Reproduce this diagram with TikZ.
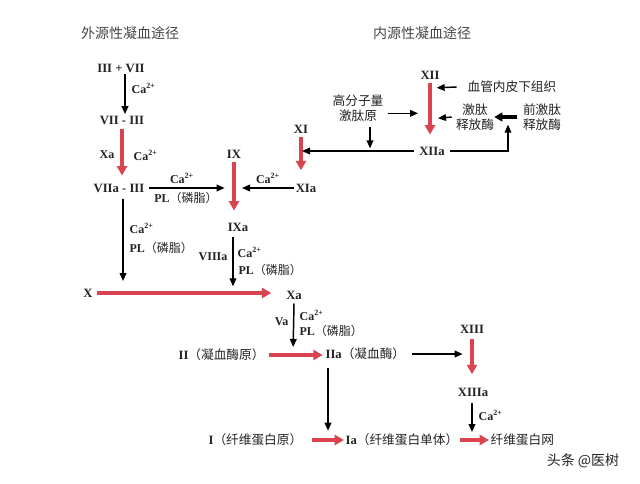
\documentclass[tikz,border=0pt]{standalone}
\usepackage{fontspec}
\setmainfont{Liberation Serif}
\newfontfamily\cjk{Noto Sans CJK SC}
\usetikzlibrary{arrows.meta}
\definecolor{myred}{RGB}{218,68,80}
\definecolor{txt}{RGB}{35,35,35}
\definecolor{ttl}{RGB}{70,70,70}
\newcommand\RN[1]{{\bfseries #1}}
\newcommand\CJ[1]{{\cjk #1}}
\newcommand\CaIon{{\bfseries Ca\textsuperscript{2+}}}
\tikzset{
  lbl/.style={inner sep=1pt, text=txt, font=\fontsize{9.5}{11}\selectfont, align=center},
  sm/.style={inner sep=1pt, text=txt, font=\fontsize{9}{10}\selectfont},
  ttlbox/.style={inner sep=1pt, text=ttl, font=\cjk\fontsize{10.5}{12}\selectfont},
  blk/.style={draw=black, line width=1.1pt, -{Triangle[length=6pt,width=5pt]}},
  thickblk/.style={draw=black, line width=2.4pt, -{Triangle[length=6pt,width=6.5pt]}},
  redarr/.style={draw=myred, line width=3.6pt, -{Triangle[length=7pt,width=7.5pt]}},
}
\begin{document}
\begin{tikzpicture}[x=0.75pt,y={(0pt,-0.75pt)}]
\useasboundingbox[fill=white] (0,0) rectangle (640,483);
% titles
\node[ttlbox] (t1) at (130,33) {外源性凝血途径};
\node[ttlbox] (t2) at (422,33) {内源性凝血途径};
% extrinsic
\node[lbl] (n1) at (121,68) {\RN{III + VII}};
\node[lbl] (n2) at (122,120) {\RN{VII - III}};
\node[lbl] (n3) at (119,188) {\RN{VIIa - III}};
\node[sm,anchor=west] (c1) at (130,88) {\CaIon};
\node[sm,anchor=east] (xa1) at (116,155) {\RN{Xa}};
\node[sm,anchor=west] (c2) at (132,155) {\CaIon};
% IX / XI
\node[lbl] (ix) at (234,154) {\RN{IX}};
\node[lbl] (ixa) at (238,227) {\RN{IXa}};
\node[lbl] (xi) at (301,129) {\RN{XI}};
\node[lbl] (xia) at (306,188) {\RN{XIa}};
\coordinate (ixmid) at (234,188);
\node[sm] (c3) at (182,178) {\CaIon};
\node[sm] (pl1) at (186,198) {\RN{PL}\CJ{（磷脂）}};
\node[sm] (c4) at (268,178) {\CaIon};
\node[sm,anchor=west] (c5) at (128,228) {\CaIon};
\node[sm,anchor=west] (pl2) at (128,248) {\RN{PL}\CJ{（磷脂）}};
\node[sm,anchor=east] (viiia) at (229,257) {\RN{VIIIa}};
\node[sm,anchor=west] (c6) at (236,252) {\CaIon};
\node[sm,anchor=west] (pl3) at (237,270) {\RN{PL}\CJ{（磷脂）}};
% X row
\node[lbl] (x) at (88,293) {\RN{X}};
\node[lbl] (xa) at (294,295) {\RN{Xa}};
\coordinate (xline1) at (123,293);
\coordinate (xline2) at (233,293);
\node[sm,anchor=east] (va) at (290,322) {\RN{Va}};
\node[sm,anchor=west] (c7) at (298,315) {\CaIon};
\node[sm,anchor=west] (pl4) at (298,331) {\RN{PL}\CJ{（磷脂）}};
% II row
\node[lbl,anchor=west] (ii) at (177,355) {\RN{II}\CJ{（凝血酶原）}};
\node[lbl,anchor=west] (iia) at (324,354) {\RN{IIa}\CJ{（凝血酶）}};
\coordinate (iiline) at (293,355);
\node[lbl] (xiii) at (472,329) {\RN{XIII}};
\node[lbl] (xiiia) at (473,392) {\RN{XIIIa}};
\coordinate (xiiiline) at (472,354);
\node[sm,anchor=west] (c8) at (477,415) {\CaIon};
% bottom row
\node[lbl,anchor=west] (i) at (207,440) {\RN{I}\CJ{（纤维蛋白原）}};
\node[lbl,anchor=west] (ia) at (344,440) {\RN{Ia}\CJ{（纤维蛋白单体）}};
\node[lbl,anchor=west] (net) at (489,440) {\CJ{纤维蛋白网}};
\coordinate (ialine) at (328,440);
\coordinate (netline) at (472,440);
\node[inner sep=1pt, text=txt, font=\cjk\fontsize{10.5}{12}\selectfont] (wm) at (583,461) {头条 @医树};
% intrinsic
\node[lbl] (xii) at (430,75) {\RN{XII}};
\node[lbl] (xiia) at (432,151) {\RN{XIIa}};
\node[lbl,anchor=west] (endo) at (466,87) {\CJ{血管内皮下组织}};
\node[lbl] (hmwk) at (358,108) {\CJ{高分子量}\\\CJ{激肽原}};
\node[lbl] (kal) at (475,117) {\CJ{激肽}\\\CJ{释放酶}};
\node[lbl] (pkal) at (542,117) {\CJ{前激肽}\\\CJ{释放酶}};
\coordinate (xiil1) at (430,88);
\coordinate (xiil3) at (430,119);
\coordinate (pkarrow) at (508,118);
\coordinate (xiline) at (302,151);
\coordinate (hmwkline) at (370,151);
% ---- connectors ----
\draw[blk] ([xshift=3pt]n1.south) -- ([xshift=3pt]n1.south |- n2.north);
\draw[redarr, shorten <=2pt, shorten >=5pt] (n2.south) -- (n2.south |- n3.north);
\draw[blk, shorten >=7pt] ([xshift=2pt]n3.east) -- (ixmid);
\draw[blk, shorten >=6pt] (xia.west) -- (ixmid);
\draw[redarr, shorten <=2pt, shorten >=8pt] (ix.south) -- (ix.south |- ixa.north);
\draw[redarr, shorten <=2pt, shorten >=9pt] (xi.south) -- (xi.south |- xia.north);
\draw[blk, shorten >=9pt] ([yshift=-4pt]xline1 |- n3.south) -- (xline1);
\draw[blk, shorten >=5pt] ([yshift=-3pt]xline2 |- ixa.south) -- (xline2);
\draw[redarr, shorten <=2pt, shorten >=10pt] (x.east) -- (x.east -| xa.west);
\draw[blk, shorten >=6pt] ([yshift=-2pt]xa.south) -- (iiline);
\draw[redarr] ([xshift=2pt]ii.east) -- ([xshift=-1pt]ii.east -| iia.west);
\draw[blk, shorten >=7pt] ([xshift=4pt]iia.east) -- (xiiiline);
\draw[redarr, shorten <=3pt, shorten >=9pt] (xiii.south) -- (xiii.south |- xiiia.north);
\draw[blk, shorten >=6pt] ([yshift=-4pt]netline |- xiiia.south) -- (netline);
\draw[blk, shorten >=7pt] ([yshift=-5pt]ialine |- iia.south) -- (ialine);
\draw[redarr] ([xshift=6pt]i.east) -- (ia.west);
\draw[redarr] (ia.east) -- (net.west);
\draw[redarr, shorten <=2pt, shorten >=8pt] (xii.south) -- (xii.south |- xiia.north);
\draw[blk, shorten >=5pt] ([xshift=-7pt]endo.west) -- (xiil1);
\draw[blk, shorten >=9pt] ([xshift=2pt,yshift=-4pt]hmwk.east) -- ([yshift=-4pt]hmwk.east -| xii.south);
\draw[blk, shorten >=6pt] ([xshift=-2pt]kal.west) -- (xiil3);
\draw[thickblk] ([xshift=-3pt]pkal.west) -- ([xshift=-1pt]kal.east);
\draw[blk, shorten >=5pt] ([xshift=3pt]xiia.east) -| (pkarrow);
\draw[blk] ([xshift=-3pt]xiia.west) -- (xiline);
\draw[blk, shorten >=2pt] ([yshift=-3pt]hmwkline |- hmwk.south) -- (hmwkline);
\end{tikzpicture}
\end{document}
